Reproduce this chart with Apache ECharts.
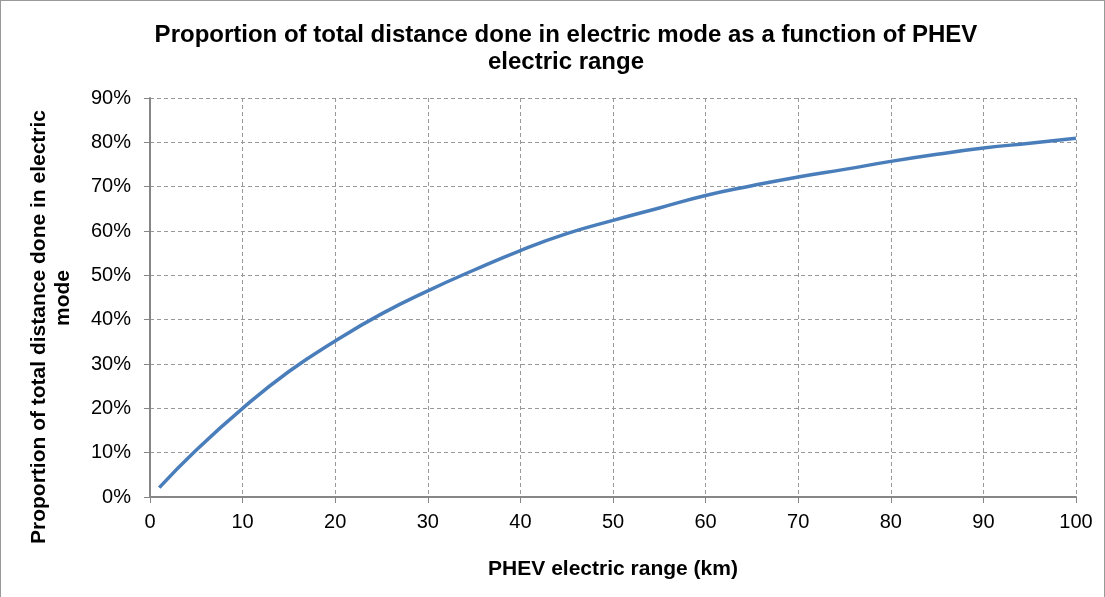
<!DOCTYPE html>
<html>
<head>
<meta charset="utf-8">
<script src="https://cdn.jsdelivr.net/npm/echarts@6/dist/echarts.min.js"></script>
<style>
  html, body { margin: 0; padding: 0; background: #fff; }
  #chart { position: absolute; left: 0; top: 0; width: 1103px; height: 600px; border: 1px solid #999; }
</style>
</head>
<body>
<div id="chart"></div>
<script>
// PHEV electric range (km)
var rangeKm = [1, 5, 10, 15, 20, 25, 30, 35, 40, 45, 50, 55, 60, 65, 70, 75, 80, 85, 90, 95, 100];
// share of distance in electric mode (%)
var electricShare = [2.1, 10.6, 20.0, 28.3, 35.2, 41.3, 46.5, 51.2, 55.6, 59.4, 62.4, 65.2, 68.0, 70.2, 72.2, 73.9, 75.7, 77.3, 78.7, 79.8, 80.9];

var chart = echarts.init(document.getElementById('chart'));

var points = rangeKm.map(function (x, i) {
    return [x, electricShare[i]];
});

var font = 'Liberation Sans, Arial, sans-serif';

// y axis title, drawn as two rotated lines like the original
var nameStyle = {
    fontFamily: font,
    fontSize: 21,
    fontWeight: 'bold',
    fill: '#000',
    align: 'center',
    verticalAlign: 'middle'
};

var option = {
    animation: false,
    title: {
        text: 'Proportion of total distance done in electric mode as a function of PHEV\nelectric range',
        left: 560,
        textAlign: 'center',
        top: 16,
        textStyle: {
            fontFamily: font,
            fontSize: 24,
            fontWeight: 'bold',
            color: '#000',
            lineHeight: 27
        }
    },
    grid: {
        left: 149,
        right: 28,
        top: 97,
        bottom: 104
    },
    graphic: [{
        type: 'text',
        x: 38,
        y: 326,
        rotation: Math.PI / 2,
        style: Object.assign({ text: 'Proportion of total distance done in electric' }, nameStyle)
    }, {
        type: 'text',
        x: 62,
        y: 297,
        rotation: Math.PI / 2,
        style: Object.assign({ text: 'mode' }, nameStyle)
    }],
    xAxis: {
        type: 'value',
        min: 0,
        max: 100,
        interval: 10,
        name: 'PHEV electric range (km)',
        nameLocation: 'middle',
        nameGap: 62,
        nameTextStyle: {
            fontFamily: font,
            fontSize: 21,
            fontWeight: 'bold',
            color: '#000'
        },
        axisLine: { lineStyle: { color: '#868686', width: 2 } },
        axisTick: { show: true, length: 6, lineStyle: { color: '#868686', width: 1 } },
        axisLabel: { fontFamily: font, fontSize: 20, color: '#000', margin: 15 },
        splitLine: {
            show: true,
            lineStyle: { color: '#999', type: [4, 3], width: 1 }
        }
    },
    yAxis: {
        type: 'value',
        min: 0,
        max: 90,
        interval: 10,
        axisLine: { show: true, lineStyle: { color: '#868686', width: 2 } },
        axisTick: { show: true, length: 6, lineStyle: { color: '#868686', width: 1 } },
        axisLabel: {
            fontFamily: font,
            fontSize: 20,
            color: '#000',
            margin: 19,
            formatter: '{value}%'
        },
        splitLine: {
            show: true,
            lineStyle: { color: '#999', type: [4, 3], width: 1 }
        }
    },
    series: [{
        type: 'line',
        data: points,
        smooth: true,
        showSymbol: false,
        lineStyle: { color: '#4A7EBB', width: 3.5 }
    }]
};

chart.setOption(option);
</script>
</body>
</html>
